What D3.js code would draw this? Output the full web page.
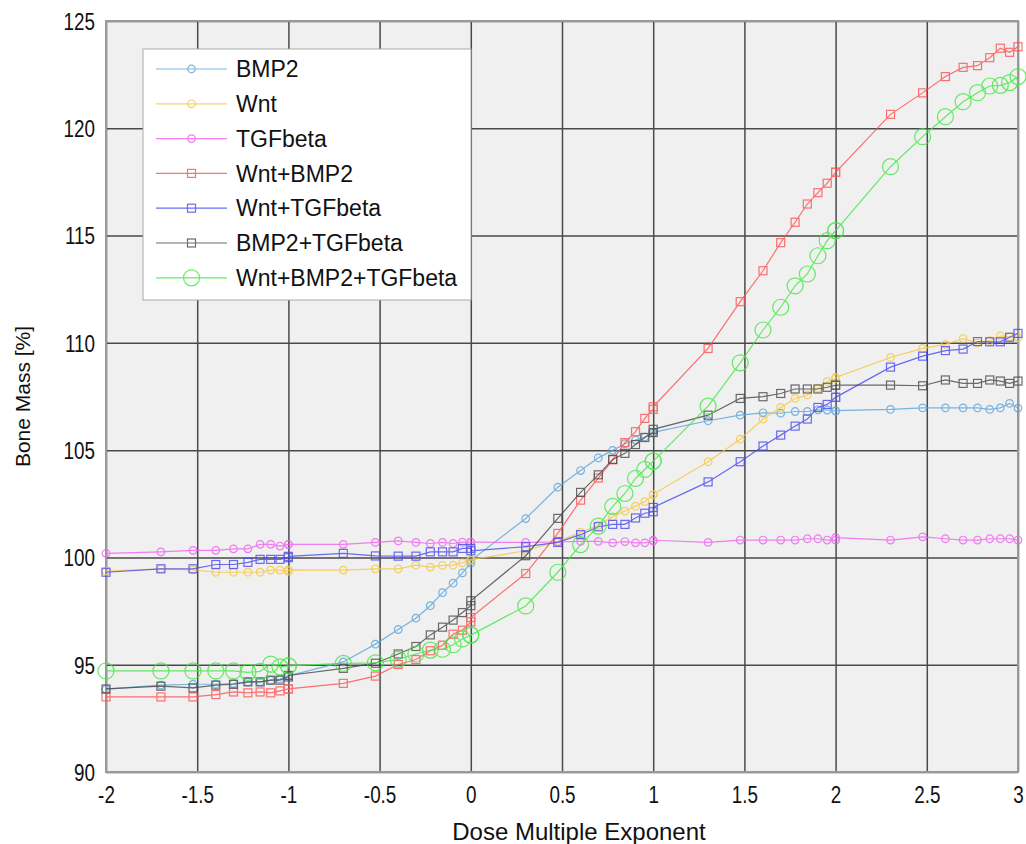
<!DOCTYPE html>
<meta charset="utf-8">
<style>
body { margin: 0; background: #fff; }
svg text { font-family: "Liberation Sans", Arial, sans-serif; fill: #111; }
.grid line { stroke: #4a4a4a; stroke-width: 1.5; }
.grid path { stroke: none; }
.serie path { fill: none; stroke-width: 1.2; }
</style>
<svg width="1026" height="844"></svg>
<script src="https://cdn.jsdelivr.net/npm/d3@7/dist/d3.min.js"></script>
<script>
// dose exponent (log10 of dose), decade ends appear twice
var xVals = [-2, -1.699, -1.523, -1.398, -1.301, -1.222, -1.155, -1.097, -1.046, -1,
  -1, -0.699, -0.523, -0.398, -0.301, -0.222, -0.155, -0.097, -0.046, 0,
  0, 0.301, 0.477, 0.602, 0.699, 0.778, 0.845, 0.903, 0.954, 1,
  1, 1.301, 1.477, 1.602, 1.699, 1.778, 1.845, 1.903, 1.954, 2,
  2, 2.301, 2.477, 2.602, 2.699, 2.778, 2.845, 2.903, 2.954, 3];

var bmp2 = [93.86, 94.05, 94.09, 94.09, 94.12, 94.2, 94.2, 94.28, 94.33, 94.48,
  94.48, 95.13, 95.96, 96.64, 97.17, 97.75, 98.36, 98.8, 99.28, 99.73,
  99.86, 101.81, 103.27, 104.05, 104.64, 104.99, 105.3, 105.47, 105.61, 105.8,
  105.83, 106.37, 106.63, 106.74, 106.72, 106.8, 106.8, 106.88, 106.87, 106.82,
  106.84, 106.9, 106.97, 106.97, 106.97, 106.97, 106.9, 106.97, 107.18, 106.96];

var wnt = [99.36, 99.47, 99.42, 99.31, 99.31, 99.31, 99.31, 99.41, 99.41, 99.35,
  99.42, 99.41, 99.47, 99.47, 99.64, 99.55, 99.63, 99.64, 99.75, 99.86,
  99.9, 100.31, 100.75, 101.17, 101.5, 101.89, 102.16, 102.39, 102.6, 102.92,
  102.94, 104.46, 105.51, 106.45, 106.99, 107.41, 107.57, 107.88, 108.19, 108.34,
  108.39, 109.32, 109.74, 109.93, 110.2, 110.0, 110.1, 110.32, 110.28, 110.25];

var tgfbeta = [100.19, 100.26, 100.33, 100.33, 100.4, 100.4, 100.61, 100.61, 100.53, 100.61,
  100.61, 100.61, 100.7, 100.77, 100.7, 100.65, 100.7, 100.65, 100.71, 100.71,
  100.71, 100.7, 100.72, 100.75, 100.75, 100.68, 100.74, 100.68, 100.68, 100.76,
  100.8, 100.7, 100.81, 100.81, 100.81, 100.81, 100.87, 100.87, 100.81, 100.81,
  100.92, 100.81, 100.96, 100.87, 100.81, 100.81, 100.87, 100.87, 100.87, 100.81];

var wntBmp2 = [93.5, 93.5, 93.5, 93.61, 93.73, 93.69, 93.73, 93.69, 93.78, 93.87,
  93.87, 94.13, 94.47, 95.01, 95.24, 95.65, 95.91, 96.42, 96.61, 97.0,
  97.2, 99.25, 101.12, 102.67, 103.7, 104.55, 105.35, 105.86, 106.48, 106.9,
  107.02, 109.74, 111.92, 113.36, 114.67, 115.62, 116.47, 117.0, 117.44, 117.95,
  117.95, 120.65, 121.65, 122.41, 122.84, 122.92, 123.29, 123.73, 123.54, 123.8];

var wntTgf = [99.31, 99.47, 99.47, 99.67, 99.67, 99.77, 99.91, 99.91, 99.91, 99.99,
  100.05, 100.19, 100.07, 100.06, 100.06, 100.26, 100.26, 100.26, 100.42, 100.42,
  100.31, 100.5, 100.7, 101.06, 101.43, 101.54, 101.54, 101.84, 102.06, 102.13,
  102.33, 103.52, 104.46, 105.19, 105.7, 106.12, 106.45, 106.99, 107.13, 107.46,
  107.46, 108.87, 109.38, 109.64, 109.71, 110.06, 110.05, 110.05, 110.26, 110.44];

var bmp2Tgf = [93.87, 94.0, 93.92, 94.05, 94.09, 94.2, 94.2, 94.28, 94.28, 94.43,
  94.5, 94.83, 95.07, 95.5, 95.85, 96.39, 96.75, 97.08, 97.43, 97.75,
  97.98, 100.08, 101.82, 103.03, 103.85, 104.57, 104.85, 105.26, 105.59, 105.82,
  105.97, 106.63, 107.41, 107.49, 107.64, 107.85, 107.85, 107.85, 107.93, 108.02,
  108.03, 108.03, 108.0, 108.27, 108.11, 108.11, 108.27, 108.22, 108.11, 108.22];

var allThree = [94.71, 94.71, 94.71, 94.71, 94.71, 94.64, 94.69, 95.03, 94.9, 94.95,
  94.95, 95.06, 95.09, 95.25, 95.5, 95.68, 95.72, 95.93, 96.2, 96.38,
  96.38, 97.74, 99.31, 100.6, 101.46, 102.38, 102.98, 103.68, 104.1, 104.49,
  104.49, 107.05, 109.07, 110.6, 111.66, 112.66, 113.21, 114.06, 114.76, 115.23,
  115.23, 118.21, 119.61, 120.54, 121.24, 121.66, 121.97, 122.0, 122.13, 122.41];

var seriesNames = ["BMP2", "Wnt", "TGFbeta", "Wnt+BMP2", "Wnt+TGFbeta", "BMP2+TGFbeta", "Wnt+BMP2+TGFbeta"];
var seriesValues = [bmp2, wnt, tgfbeta, wntBmp2, wntTgf, bmp2Tgf, allThree];
var xTicks = [-2, -1.5, -1, -0.5, 0, 0.5, 1, 1.5, 2, 2.5, 3];
var yTicks = [90, 95, 100, 105, 110, 115, 120, 125];

// look of each series: colour, marker
var colors = ["#5aa5dc", "#f5c842", "#f060f0", "#ff5050", "#4848f0", "#484848", "#40e840"];
var shapes = ["circle", "circle", "circle", "square", "square", "square", "circle"];
var sizes = [3.8, 3.8, 3.8, 4, 4, 4, 8];

var svg = d3.select("svg"),
    pL = 106, pR = 1018, pT = 21, pB = 772;

var x = d3.scaleLinear().domain([-2, 3]).range([pL, pR]);
var y = d3.scaleLinear().domain([90, 125]).range([pB, pT]);

svg.append("rect")
    .attr("x", pL).attr("y", pT)
    .attr("width", pR - pL).attr("height", pB - pT)
    .attr("fill", "#f0f0f0");

// grid
svg.append("g").attr("class", "grid")
    .attr("transform", "translate(0," + pB + ")")
    .call(d3.axisBottom(x).tickValues(xTicks).tickSize(-(pB - pT)).tickFormat(""));
svg.append("g").attr("class", "grid")
    .attr("transform", "translate(" + pL + ",0)")
    .call(d3.axisLeft(y).tickValues(yTicks).tickSize(-(pR - pL)).tickFormat(""));

svg.append("rect")
    .attr("x", pL).attr("y", pT)
    .attr("width", pR - pL).attr("height", pB - pT)
    .attr("fill", "none").attr("stroke", "#999").attr("stroke-width", 2);

// tick labels (tall, narrow digits)
var sx = 0.82;
var xAxis = svg.append("g")
    .attr("transform", "translate(0," + pB + ")")
    .call(d3.axisBottom(x).tickValues(xTicks).tickSize(0).tickPadding(0).tickFormat(function(d) { return String(d); }));
xAxis.select(".domain").remove();
xAxis.selectAll("text")
    .attr("y", 31).attr("dy", null)
    .style("font-size", "23px")
    .attr("transform", "scale(" + sx + ",1)")
    .attr("x", 0);

var yAxis = svg.append("g")
    .attr("transform", "translate(" + pL + ",0)")
    .call(d3.axisLeft(y).tickValues(yTicks).tickSize(0).tickPadding(0).tickFormat(function(d) { return String(d); }));
yAxis.select(".domain").remove();
yAxis.selectAll("text")
    .attr("x", -11 / sx).attr("dy", "0.36em")
    .style("font-size", "23px")
    .attr("transform", "scale(" + sx + ",1)");

svg.append("text")
    .attr("x", 579).attr("y", 840)
    .attr("text-anchor", "middle")
    .style("font-size", "24px")
    .text("Dose Multiple Exponent");

svg.append("text")
    .attr("transform", "translate(30," + ((pT + pB) / 2) + ") rotate(-90)")
    .attr("text-anchor", "middle")
    .style("font-size", "21px")
    .text("Bone Mass [%]");

function drawMarker(g, shape, size, color) {
  if (shape === "circle") {
    g.append("circle").attr("r", size).attr("fill", "none").attr("stroke", color).attr("stroke-width", 1.2);
  } else {
    g.append("rect").attr("x", -size).attr("y", -size).attr("width", size * 2).attr("height", size * 2)
      .attr("fill", "none").attr("stroke", color).attr("stroke-width", 1.2);
  }
}

var line = d3.line()
    .x(function(d) { return x(d[0]); })
    .y(function(d) { return y(d[1]); });

seriesValues.forEach(function(vals, i) {
  var pts = xVals.map(function(xv, j) { return [xv, vals[j]]; });
  var g = svg.append("g").attr("class", "serie").attr("opacity", 0.8);
  g.append("path").datum(pts).attr("d", line).attr("stroke", colors[i]);
  g.selectAll("g.m").data(pts).enter().append("g")
      .attr("class", "m")
      .attr("transform", function(d) { return "translate(" + x(d[0]) + "," + y(d[1]) + ")"; })
      .each(function() { drawMarker(d3.select(this), shapes[i], sizes[i], colors[i]); });
});

// legend
var legend = svg.append("g");
legend.append("rect")
    .attr("x", 143).attr("y", 49).attr("width", 328).attr("height", 251)
    .attr("fill", "#fff").attr("stroke", "#aaa").attr("stroke-width", 1);
seriesNames.forEach(function(name, i) {
  var ly = 69 + i * 34.8;
  var row = legend.append("g").attr("opacity", 0.8);
  row.append("line").attr("x1", 156).attr("x2", 227).attr("y1", ly).attr("y2", ly)
      .attr("stroke", colors[i]).attr("stroke-width", 1.2);
  var mg = row.append("g").attr("transform", "translate(191.5," + ly + ")");
  drawMarker(mg, shapes[i], sizes[i], colors[i]);
  legend.append("text").attr("x", 236).attr("y", ly).attr("dy", "0.36em")
      .style("font-size", "23px").text(name);
});
</script>
